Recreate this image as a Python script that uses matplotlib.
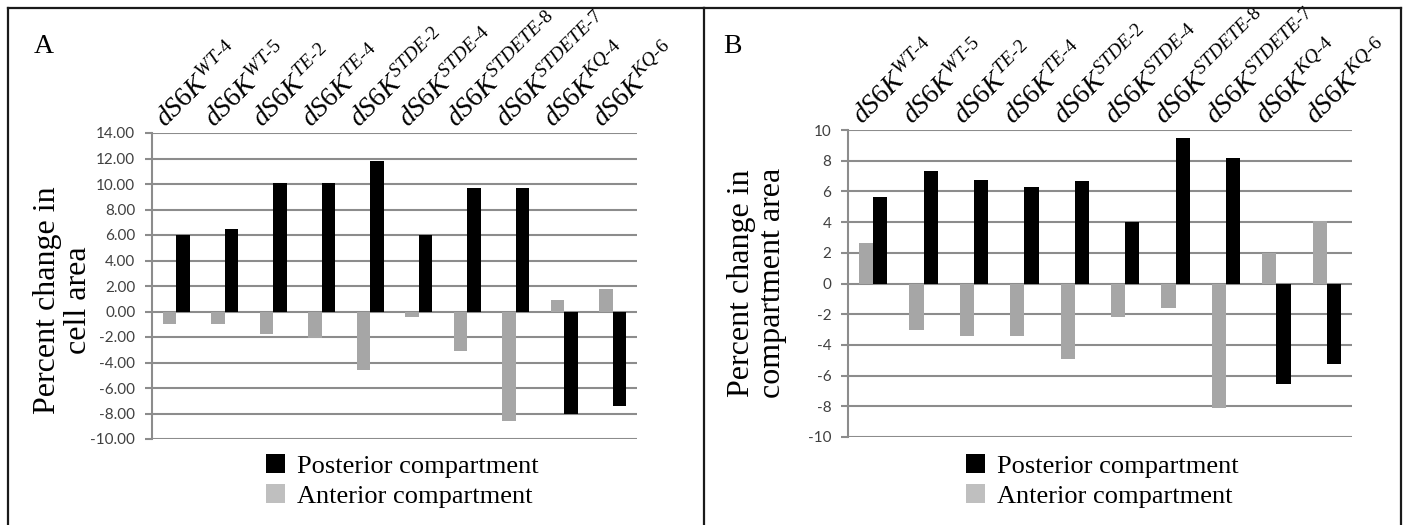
import numpy as np
import matplotlib
matplotlib.use("Agg")
import matplotlib.pyplot as plt
from matplotlib.patches import Patch
from matplotlib.lines import Line2D
from matplotlib.ticker import FuncFormatter, MultipleLocator

plt.rcParams['mathtext.fontset'] = 'custom'
plt.rcParams['mathtext.it'] = 'Liberation Serif:italic'
plt.rcParams['mathtext.rm'] = 'Liberation Serif'

# ---------------- data ----------------
genotypes = ["WT-4", "WT-5", "TE-2", "TE-4", "STDE-2", "STDE-4",
             "STDETE-8", "STDETE-7", "KQ-4", "KQ-6"]

cell_posterior = [6.0, 6.5, 10.1, 10.1, 11.8, 6.0, 9.7, 9.7, -8.0, -7.4]
cell_anterior = [-1.0, -1.0, -1.75, -2.1, -4.6, -0.45, -3.1, -8.55, 0.9, 1.75]

comp_posterior = [5.65, 7.33, 6.74, 6.26, 6.67, 4.02, 9.46, 8.15, -6.52, -5.26]
comp_anterior = [2.65, -3.05, -3.42, -3.42, -4.9, -2.18, -1.57, -8.11, 2.0, 4.08]

series_labels = ["Posterior compartment", "Anterior compartment"]
ylabel_A = "Percent change in\ncell area"
ylabel_B = "Percent change in\ncompartment area"

# ---------------- styling ----------------
W, H = 1405, 525
DPI = 100
fig = plt.figure(figsize=(W / DPI, H / DPI), dpi=DPI)

BLACK = "#000000"
GRAY = "#a6a6a6"
LEG_GRAY = "#bfbfbf"
GRID = "#8c8c8c"
TICKC = "#404040"
SERIF = "Liberation Serif"


def px_axes(x0, y0, x1, y1):
    return fig.add_axes([x0 / W, 1 - y1 / H, (x1 - x0) / W, (y1 - y0) / H])


def draw_panel(ax, post, ant, ymin, ymax, step, fmt, lab_off):
    x = np.arange(len(genotypes))
    bw = 0.28
    ax.bar(x - bw / 2, ant, width=bw, color=GRAY, zorder=3)
    ax.bar(x + bw / 2, post, width=bw, color=BLACK, zorder=3)
    ax.set_xlim(-0.5, len(genotypes) - 0.5)
    ax.set_ylim(ymin, ymax)
    ax.yaxis.set_major_locator(MultipleLocator(step))
    ax.yaxis.set_major_formatter(FuncFormatter(lambda v, p: fmt(v)))
    ax.grid(axis='y', color=GRID, linewidth=1.5, zorder=1)
    ax.set_xticks([])
    for s in ['top', 'right', 'bottom']:
        ax.spines[s].set_visible(False)
    ax.spines['left'].set_color(GRID)
    ax.spines['left'].set_linewidth(1.5)
    ax.tick_params(axis='y', direction='out', length=5, width=1.5,
                   color=GRID, labelcolor=TICKC, labelsize=11, pad=7)
    for lab in ax.get_yticklabels():
        lab.set_fontfamily('Lato')
    for i, g in enumerate(genotypes):
        gm = g.replace("-", "\u2010")
        ax.text(i - 0.22, ymax + lab_off, r"$\mathit{dS6K}^{\mathit{%s}}$" % gm,
                transform=ax.transData, rotation=45, rotation_mode='anchor',
                ha='left', va='baseline', fontsize=20, color='black',
                clip_on=False)
    return ax


axA = px_axes(152, 133, 637, 439)
draw_panel(axA, cell_posterior, cell_anterior, -10, 14, 2,
           lambda v: f"{v:.2f}".replace("\u2212", "-"), 0.4)

axB = px_axes(848, 130, 1352, 437)
draw_panel(axB, comp_posterior, comp_anterior, -10, 10, 2,
           lambda v: f"{int(round(v))}", 0.3)

# y labels
fig.text(63 / W, 1 - 300 / H, ylabel_A, rotation=90, ha='center', va='center',
         fontsize=23, family=SERIF, linespacing=1.08)
fig.text(757 / W, 1 - 283 / H, ylabel_B, rotation=90, ha='center', va='center',
         fontsize=23, family=SERIF, linespacing=1.08)

# panel letters
fig.text(34 / W, 1 - 53 / H, "A", fontsize=20, family=SERIF, ha='left', va='baseline')
fig.text(723 / W, 1 - 53 / H, "B", fontsize=20, family=SERIF, ha='left', va='baseline')

# legends
handles = [Patch(facecolor=BLACK, edgecolor='none'),
           Patch(facecolor=LEG_GRAY, edgecolor='none')]
for lx in (266, 966):
    fig.legend(handles, series_labels, loc='upper left',
               bbox_to_anchor=(lx / W, 1 - 454 / H), frameon=False,
               prop={'family': SERIF, 'size': 19}, handlelength=0.72,
               handleheight=0.72, handletextpad=0.45, labelspacing=0.25,
               borderpad=0, borderaxespad=0)

# panel borders
bc = "#1a1a1a"
lw = 1.6
def fline(xs, ys):
    fig.add_artist(Line2D([x / W for x in xs], [1 - y / H for y in ys],
                          color=bc, linewidth=lw, transform=fig.transFigure))
fline([7.5, 703.5], [7.5, 7.5])
fline([7.5, 7.5], [7.5, 530])
fline([703.5, 703.5], [7.5, 530])
fline([703.5, 1400.5], [7.5, 7.5])
fline([1400.5, 1400.5], [7.5, 530])

fig.savefig("out.png", dpi=DPI)
